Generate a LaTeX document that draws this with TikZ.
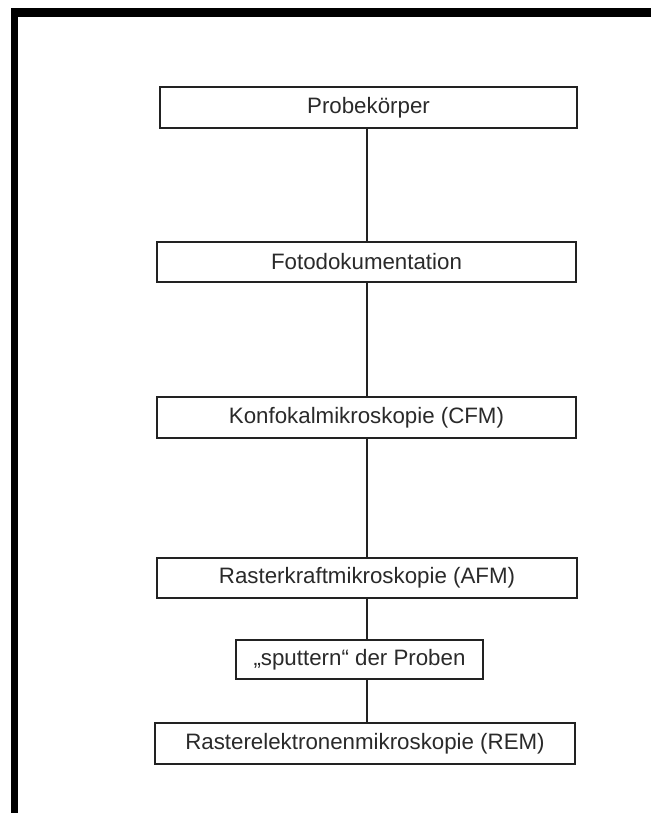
\documentclass[tikz,border=0pt]{standalone}
\usepackage{fontspec}
\setmainfont{Liberation Sans}
\definecolor{boxline}{HTML}{222222}
\definecolor{txt}{HTML}{2A2A2A}
\tikzset{
  stepbox/.style={draw=boxline, line width=1.3pt, rectangle, inner sep=0pt,
    font=\fontsize{22.3}{26}\selectfont, text=txt, fill=white},
  conn/.style={draw=boxline, line width=1.1pt}
}
\begin{document}
\begin{tikzpicture}[x=1pt,y=-1pt]
\useasboundingbox (0,0) rectangle (651,813);
\fill[white] (0,0) rectangle (651,813);
% frame (top and left bands)
\fill[black] (11,8) rectangle (651,17);
\fill[black] (11,8) rectangle (18,813);
\coordinate (cx) at (367,0);
\node[stepbox, minimum width=417pt, minimum height=41pt] (b1) at (368.5,107.5) {Probekörper};
\node[stepbox, minimum width=419pt, minimum height=40pt] (b2) at (366.5,262) {Fotodokumentation};
\node[stepbox, minimum width=419pt, minimum height=41pt] (b3) at (366.5,417.5) {Konfokalmikroskopie (CFM)};
\node[stepbox, minimum width=420pt, minimum height=40pt] (b4) at (367,578) {Rasterkraftmikroskopie (AFM)};
\node[stepbox, minimum width=247pt, minimum height=39pt] (b5) at (359.5,659.5) {„sputtern“ der Proben};
\node[stepbox, minimum width=420pt, minimum height=41pt] (b6) at (365,743.5) {Rasterelektronenmikroskopie (REM)};
\draw[conn] (b1.south -| cx) -- (b2.north -| cx);
\draw[conn] (b2.south -| cx) -- (b3.north -| cx);
\draw[conn] (b3.south -| cx) -- (b4.north -| cx);
\draw[conn] (b4.south -| cx) -- (b5.north -| cx);
\draw[conn] (b5.south -| cx) -- (b6.north -| cx);
\end{tikzpicture}
\end{document}
